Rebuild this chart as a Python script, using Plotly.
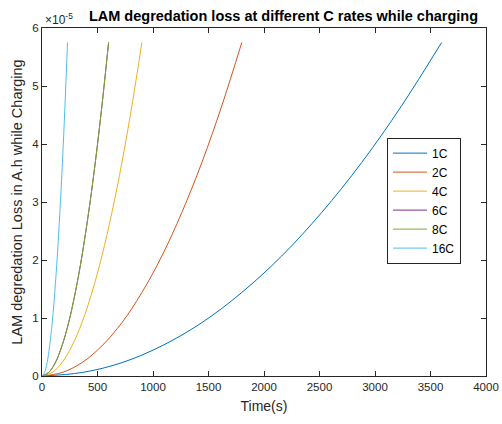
import plotly.graph_objects as go

# Values (LAM loss in A.h, x1e-5)
loss = [0, 0.06, 0.23, 0.52, 0.92, 1.44, 2.07, 2.82, 3.68, 4.66, 5.75]

t_1C = [0, 360, 720, 1080, 1440, 1800, 2160, 2520, 2880, 3240, 3600]
t_2C = [0, 180, 360, 540, 720, 900, 1080, 1260, 1440, 1620, 1800]
t_4C = [0, 90, 180, 270, 360, 450, 540, 630, 720, 810, 900]
t_6C = [0, 60, 120, 180, 240, 300, 360, 420, 480, 540, 600]
t_8C = [0, 60, 120, 180, 240, 300, 360, 420, 480, 540, 600]
t_16C = [0, 23, 46, 69, 92, 115, 138, 161, 184, 207, 230]

series_names = ["1C", "2C", "4C", "6C", "8C", "16C"]
series_times = [t_1C, t_2C, t_4C, t_6C, t_8C, t_16C]
colors = ["#0072BD", "#D95319", "#EDB120", "#7E2F8E", "#77AC30", "#4DBEEE"]

y_ticks = [0, 1, 2, 3, 4, 5, 6]
x_ticks = [0, 500, 1000, 1500, 2000, 2500, 3000, 3500, 4000]

FONT = "Liberation Sans, Arial, sans-serif"
AX = "#262626"

fig = go.Figure()
for name, tt, c in zip(series_names, series_times, colors):
    fig.add_trace(go.Scatter(
        x=tt, y=[v * 1e-5 for v in loss], name=name, mode="lines",
        line=dict(color=c, width=1, shape="spline"),
    ))

fig.update_layout(
    template="none",
    width=502, height=424,
    margin=dict(l=42, r=16, t=28, b=48, autoexpand=False),
    paper_bgcolor="white", plot_bgcolor="white",
    font=dict(family=FONT, size=11.5, color=AX),
    showlegend=True,
    title=dict(
        text="<b>LAM degredation loss at different C rates while charging</b>",
        x=283.5 / 502, xref="container", xanchor="center",
        y=1 - 15.5 / 424, yref="container", yanchor="middle",
        font=dict(family=FONT, size=14.5, color="black"),
    ),
    legend=dict(
        x=0.777, y=0.685, xanchor="left", yanchor="top",
        bgcolor="white", bordercolor=AX, borderwidth=1,
        font=dict(family=FONT, size=12, color="black"),
        tracegroupgap=0, itemwidth=34,
    ),
    xaxis=dict(
        range=[0, 4000], tickvals=x_ticks, ticktext=[str(v) for v in x_ticks],
        ticks="inside", ticklen=5, tickcolor=AX, tickwidth=1,
        showline=True, linecolor=AX, linewidth=1, mirror="ticks",
        showgrid=False, zeroline=False, automargin=False,
        title=dict(text="Time(s)", font=dict(family=FONT, size=14, color=AX), standoff=9),
        tickfont=dict(family=FONT, size=11.5, color=AX),
    ),
    yaxis=dict(
        range=[0, 6e-5], tickvals=[v * 1e-5 for v in y_ticks], ticktext=[str(v) for v in y_ticks],
        ticks="inside", ticklen=5, tickcolor=AX, tickwidth=1,
        showline=True, linecolor=AX, linewidth=1, mirror="ticks",
        showgrid=False, zeroline=False, automargin=False,
        title=dict(text="LAM degredation Loss in A.h while Charging",
                   font=dict(family=FONT, size=14.5, color=AX), standoff=6),
        tickfont=dict(family=FONT, size=11.5, color=AX),
    ),
    annotations=[dict(
        text="×10<sup>-5</sup>", xref="paper", yref="paper", x=0, y=1,
        xanchor="left", yanchor="bottom", showarrow=False,
        font=dict(family=FONT, size=12, color=AX), xshift=1, yshift=-1,
    )],
)

fig.write_html("out.html")
